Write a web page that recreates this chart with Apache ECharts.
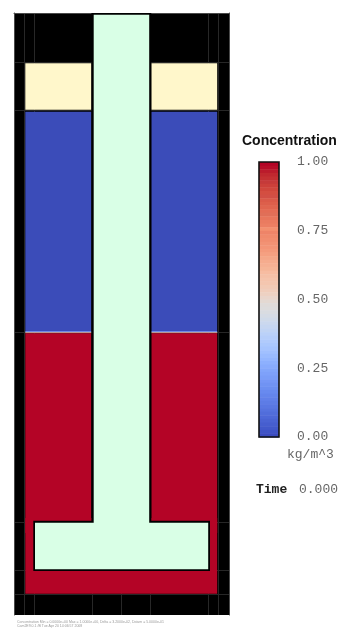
<!DOCTYPE html>
<html>
<head>
<meta charset="utf-8">
<style>html,body{margin:0;padding:0;background:#fff}#c{width:360px;height:629px}</style>
<script src="https://cdn.jsdelivr.net/npm/echarts@6/dist/echarts.min.js"></script>
</head>
<body>
<div id="c"></div>
<script>
// Regions as [xStart, xEnd, yStart, yEnd], y measured downward in mesh units
var meshWidth = 215, meshHeight = 602;
var creamRegions = [[11.3, 77.4, 50.3, 96.7], [137.3, 203.2, 50.3, 96.7]];
var blueRegions = [[11.3, 77.4, 98.7, 318.6], [137.3, 203.2, 98.7, 318.6]];
var interfaceBlue = [[11.3, 77.4, 318, 319.2], [137.3, 203.2, 318, 319.2]];
var interfacePink = [[11.3, 77.4, 319.2, 320.2], [137.3, 203.2, 319.2, 320.2]];
var redRegions = [[11.3, 77.4, 320.2, 520], [137.3, 203.2, 320.2, 520], [11.3, 203.2, 505, 580.7]];
var outlineRegions = [[77.4, 137.3, 0, 512], [19.3, 196, 507.7, 558]];
var mintRegions = [[79.7, 135.2, 1.7, 510], [21, 194.2, 509.7, 556.3]];
var meshLinesX = [10.4, 20.4, 78.4, 107.7, 136.2, 194.7, 204.4];
var meshLinesY = [49.4, 97.5, 319.5, 509.2, 557.3, 581.3];
var colorbarTicks = [0, 0.25, 0.5, 0.75, 1];
var colorbarLevels = [
 '#b40426','#b70d28','#bb1b2c','#c0282f','#c43032','#c53a3a','#cc403a','#d0473d','#d44e41','#d24f45','#da5a49','#dd5f4b',
 '#e0654f','#e36c55','#e06f58','#e8765c','#ea7b60','#ec7f63','#f3906f','#ee8468','#f08a6c','#f18d6f','#f29274','#f39577',
 '#f49a7b','#f5a081','#f5a788','#f6ac8e','#f6b093','#f6b597','#f7bca1','#f5c0a7','#f5c4ac','#f4c6af','#f2cab5','#f0cdbb',
 '#edd1c2','#e9d5cb','#e4d9d2','#dfdbd9','#dddcdc','#d9dce1','#d5dbe5','#d0dae9','#cbd8ee','#c6d6f1','#c1d4f4','#bbd1f8',
 '#b6cefa','#b1cbfc','#abc8fd','#a6c4fe','#a1c0ff','#9abbff','#94b6ff','#8db0fe','#88abfd','#82a6fb','#7ea1fa','#7a9df8',
 '#7597f6','#7093f3','#6c8ff1','#688aef','#6485ec','#6180e9','#5d7ce6','#5977e3','#5572df','#516ddb','#4e68d8','#4a63d3',
 '#465ecf','#4259cb','#3f53c6','#3b4cc0'];
var titleText = 'Concentration';
var unitText = 'kg/m^3';
var timeLabel = 'Time';
var timeValue = '0.000';
var footerLines = [
 'Concentration Min = 0.0000e+00 Max = 1.0000e+00, Delta = 3.2000e-02, Datum = 5.0000e-01',
 'Cam2E9.0.1 /B Tue Apr 20 14:06:57 2008'
];

function rectSeries(name, data, color) {
  return {
    type: 'custom', name: name, xAxisIndex: 0, yAxisIndex: 0, silent: true, clip: true,
    data: data,
    encode: {x: [0, 1], y: [2, 3]},
    renderItem: function (p, api) {
      var a = api.coord([api.value(0), api.value(2)]);
      var b = api.coord([api.value(1), api.value(3)]);
      return {type: 'rect', shape: {x: a[0], y: a[1], width: b[0] - a[0], height: b[1] - a[1]}, style: {fill: color}};
    }
  };
}
var n = colorbarLevels.length;
var levelData = colorbarLevels.map(function (c, i) { return [i, c]; });
var frameLine = {show: true, onZero: false, lineStyle: {color: '#4a4a4a', width: 1}};

var chart = echarts.init(document.getElementById('c'), null, {renderer: 'canvas'});
chart.setOption({
  animation: false,
  backgroundColor: '#fff',
  grid: [
    {left: 14, top: 13, width: 215, height: 602, show: true, backgroundColor: '#000', borderWidth: 0},
    {left: 259, top: 162, width: 20, height: 275}
  ],
  xAxis: [
    {gridIndex: 0, type: 'value', position: 'top', min: 0, max: meshWidth, axisLine: frameLine, axisLabel: {show: false},
     axisTick: {show: false, customValues: meshLinesX},
     splitLine: {show: true, lineStyle: {color: '#272727', width: 1}}},
    {gridIndex: 1, type: 'value', min: 0, max: 1, show: false}
  ],
  yAxis: [
    {gridIndex: 0, type: 'value', position: 'left', min: 0, max: meshHeight, inverse: true, axisLine: frameLine, axisLabel: {show: false},
     axisTick: {show: false, customValues: meshLinesY},
     splitLine: {show: true, lineStyle: {color: '#272727', width: 1}}},
    {gridIndex: 1, type: 'value', min: 0, max: 1, interval: 0.25, position: 'right',
     axisLine: {show: false}, axisTick: {show: false}, splitLine: {show: false},
     axisLabel: {show: true, margin: 18, color: '#666', fontFamily: 'Liberation Mono', fontSize: 13,
       formatter: function (v) { return v.toFixed(2); }}},
    {gridIndex: 0, type: 'value', position: 'right', min: 0, max: meshHeight, inverse: true, axisLine: frameLine,
     axisLabel: {show: false}, axisTick: {show: false}, splitLine: {show: false}}
  ],
  series: [
    rectSeries('cream', creamRegions, '#fff7cb'),
    rectSeries('blue', blueRegions, '#3b4cb9'),
    rectSeries('interfaceBlue', interfaceBlue, '#6f8ce8'),
    rectSeries('interfacePink', interfacePink, '#e8b4a4'),
    rectSeries('red', redRegions, '#b40426'),
    rectSeries('outline', outlineRegions, '#000'),
    rectSeries('mint', mintRegions, '#d9ffe6'),
    {
      type: 'custom', name: 'colorbar', xAxisIndex: 1, yAxisIndex: 1, silent: true,
      data: levelData,
      encode: {y: 0},
      renderItem: function (p, api) {
        var i = api.value(0);
        var a = api.coord([0, 1 - i / n]);
        var b = api.coord([1, 1 - (i + 1) / n]);
        return {type: 'rect', shape: {x: a[0], y: a[1], width: b[0] - a[0], height: b[1] - a[1] + 0.5},
                style: {fill: colorbarLevels[i]}};
      }
    },
    {
      type: 'custom', name: 'colorbarFrame', xAxisIndex: 1, yAxisIndex: 1, silent: true, z: 5, clip: false,
      data: [[0, 1]],
      encode: {y: [0, 1]},
      renderItem: function (p, api) {
        var a = api.coord([0, 1]);
        var b = api.coord([1, 0]);
        return {type: 'rect', shape: {x: a[0], y: a[1], width: b[0] - a[0], height: b[1] - a[1]},
                style: {fill: 'none', stroke: '#111', lineWidth: 1.6}};
      }
    }
  ],
  graphic: [
    {type: 'text', left: 242, top: 134, style: {text: titleText, font: 'bold 14px "Liberation Sans"', fill: '#111'}},
    {type: 'text', left: 287, top: 448.5, style: {text: unitText, font: '13px "Liberation Mono"', fill: '#666'}},
    {type: 'text', left: 256, top: 483, style: {text: timeLabel, font: 'bold 13px "Liberation Mono"', fill: '#222'}},
    {type: 'text', left: 299, top: 483, style: {text: timeValue, font: '13px "Liberation Mono"', fill: '#666'}},
    {type: 'text', left: 17, top: 620, style: {text: footerLines[0], font: '3.5px "Liberation Sans"', fill: '#999'}},
    {type: 'text', left: 17, top: 624, style: {text: footerLines[1], font: '3.5px "Liberation Sans"', fill: '#999'}}
  ]
});
</script>
</body>
</html>
